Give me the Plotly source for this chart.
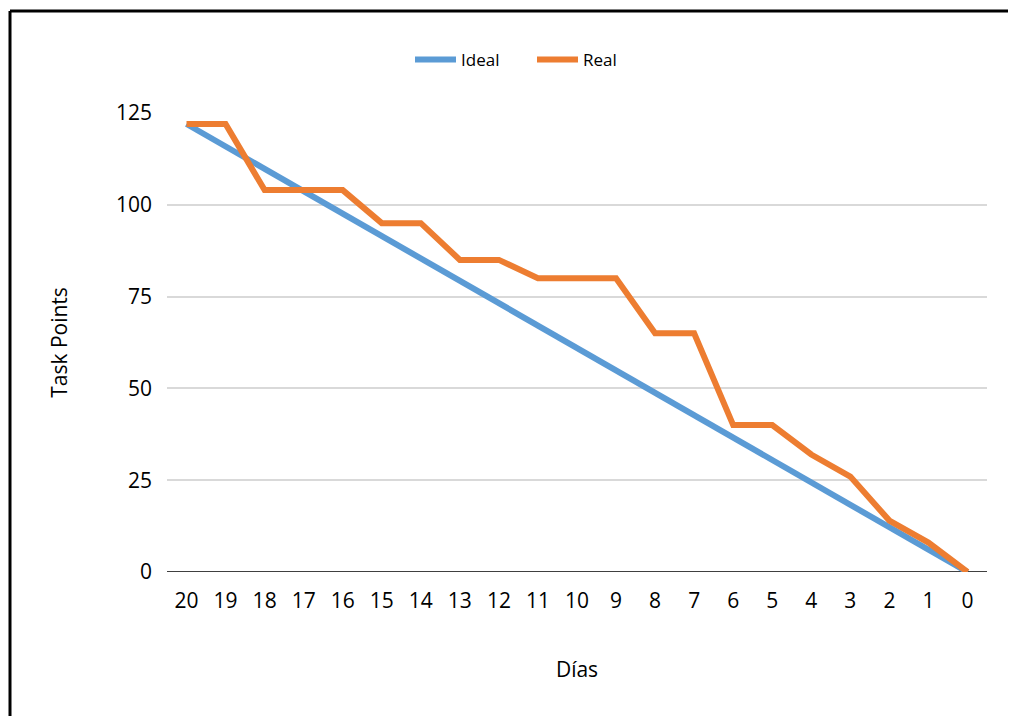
import plotly.graph_objects as go

dias = ["20", "19", "18", "17", "16", "15", "14", "13", "12", "11", "10",
        "9", "8", "7", "6", "5", "4", "3", "2", "1", "0"]
ideal = [122, 115.9, 109.8, 103.7, 97.6, 91.5, 85.4, 79.3, 73.2, 67.1, 61,
         54.9, 48.8, 42.7, 36.6, 30.5, 24.4, 18.3, 12.2, 6.1, 0]
real = [122, 122, 104, 104, 104, 95, 95, 85, 85, 80, 80,
        80, 65, 65, 40, 40, 32, 26, 14, 8, 0]
y_ticks = [0, 25, 50, 75, 100, 125]

# page is drawn with an 8px body offset, so figure coords = screen - 8
OFF = 8
W, H = 1016, 716
L, R, T, B = 167 - OFF, 29 + OFF, 113 - OFF, 144 + OFF
pw, ph = W - L - R, H - T - B

def px_x(sx):
    return (sx - OFF - L) / pw

def px_y(sy):
    return (H - B - (sy - OFF)) / ph

FONT = "Open Sans"

fig = go.Figure()
fig.add_trace(go.Scatter(x=dias, y=ideal, mode="lines", name="Ideal",
                         line=dict(color="#5B9BD5", width=6)))
fig.add_trace(go.Scatter(x=dias, y=real, mode="lines", name="Real",
                         line=dict(color="#ED7D31", width=6)))

fig.update_layout(
    width=W, height=H,
    margin=dict(l=L, r=R, t=T, b=B),
    paper_bgcolor="white", plot_bgcolor="white",
    font=dict(family=FONT, color="#000000"),
    showlegend=True,
    legend=dict(orientation="h", x=px_x(410), xanchor="left",
                y=px_y(60), yanchor="middle",
                font=dict(size=17, family=FONT, color="#000"),
                itemwidth=41, entrywidth=66, bgcolor="rgba(0,0,0,0)"),
    xaxis=dict(type="category", range=[-0.5, 20.5],
               showgrid=False, showline=False, zeroline=False,
               ticks="", ticklabelstandoff=14,
               tickfont=dict(size=21, family=FONT),
               title=dict(text="Días", font=dict(size=21, family=FONT), standoff=49)),
    yaxis=dict(range=[0, 125], tickvals=y_ticks,
               showgrid=True, gridcolor="#D9D9D9", gridwidth=2,
               zeroline=False, showline=False, ticks="",
               ticklabelstandoff=14,
               tickfont=dict(size=21, family=FONT),
               title=dict(text="Task Points", font=dict(size=21, family=FONT), standoff=42)),
)

# dark baseline at zero
fig.add_shape(type="line", xref="paper", yref="y", x0=0, x1=1, y0=0, y1=0,
              line=dict(color="#404040", width=2), layer="below")

# outer border (top and left edges of the image frame)
fig.add_shape(type="line", xref="paper", yref="paper",
              x0=px_x(10), x1=px_x(1030), y0=px_y(11), y1=px_y(11),
              line=dict(color="black", width=3))
fig.add_shape(type="line", xref="paper", yref="paper",
              x0=px_x(10), x1=px_x(10), y0=px_y(11), y1=px_y(730),
              line=dict(color="black", width=3))

fig.write_html("out.html")
